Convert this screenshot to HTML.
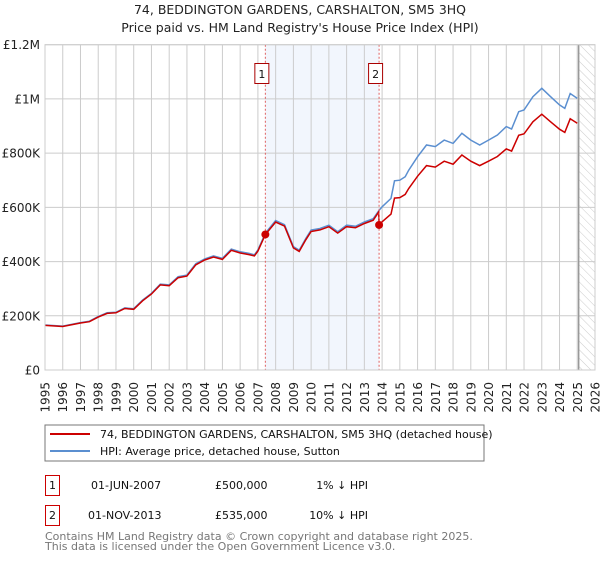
<!DOCTYPE html>
<html><head><meta charset="utf-8"><style>
body{margin:0;background:#fff;font-family:"DejaVu Sans","Liberation Sans",sans-serif;}
svg text{font-family:"DejaVu Sans","Liberation Sans",sans-serif;}
</style></head><body>
<svg id="c" width="600" height="560" viewBox="0 0 600 560" xmlns="http://www.w3.org/2000/svg">
<defs><pattern id="hatch" width="6" height="6" patternUnits="userSpaceOnUse" patternTransform="rotate(-45)"><line x1="0" y1="0" x2="0" y2="6" stroke="#ccc" stroke-width="1"/></pattern></defs>
<text x="300" y="14" text-anchor="middle" font-size="12.5" fill="#222">74, BEDDINGTON GARDENS, CARSHALTON, SM5 3HQ</text>
<text x="300" y="32" text-anchor="middle" font-size="12.5" fill="#222">Price paid vs. HM Land Registry's House Price Index (HPI)</text>
<g id="plot"></g>
<rect x="45" y="425" width="439" height="36" fill="#fff" stroke="#777"/>
<line x1="50" y1="434" x2="90" y2="434" stroke="#cc0000" stroke-width="2"/>
<text x="100" y="438" font-size="11" fill="#111">74, BEDDINGTON GARDENS, CARSHALTON, SM5 3HQ (detached house)</text>
<line x1="50" y1="451" x2="90" y2="451" stroke="#5b8fd0" stroke-width="2"/>
<text x="100" y="455" font-size="11" fill="#111">HPI: Average price, detached house, Sutton</text>
<g>
<rect x="45.5" y="475.5" width="14" height="20" fill="none" stroke="#cc0000"/>
<text x="52.5" y="489" text-anchor="middle" font-size="11" fill="#111">1</text>
<text x="91" y="489" font-size="11" fill="#111">01-JUN-2007</text>
<text x="215" y="489" font-size="11" fill="#111">£500,000</text>
<text x="368" y="489" text-anchor="end" font-size="11" fill="#111">1% ↓ HPI</text></g>
<g>
<rect x="45.5" y="505.5" width="14" height="20" fill="none" stroke="#cc0000"/>
<text x="52.5" y="519" text-anchor="middle" font-size="11" fill="#111">2</text>
<text x="88" y="519" font-size="11" fill="#111">01-NOV-2013</text>
<text x="215" y="519" font-size="11" fill="#111">£535,000</text>
<text x="368" y="519" text-anchor="end" font-size="11" fill="#111">10% ↓ HPI</text></g>
<text x="45" y="540" font-size="11" fill="#777">Contains HM Land Registry data © Crown copyright and database right 2025.</text>
<text x="45" y="550" font-size="11" fill="#777">This data is licensed under the Open Government Licence v3.0.</text>
</svg>
<script>
const hpiYears=[1995,1996,1997,1997.5,1998,1998.5,1999,1999.5,2000,2000.5,2001,2001.5,2002,2002.5,2003,2003.5,2004,2004.5,2005,2005.5,2006,2006.5,2006.8,2007,2007.42,2008,2008.5,2009,2009.33,2009.7,2010,2010.5,2011,2011.5,2012,2012.5,2013,2013.5,2013.83,2014,2014.5,2014.7,2015,2015.3,2015.5,2016,2016.5,2017,2017.5,2018,2018.5,2019,2019.5,2020,2020.5,2021,2021.3,2021.7,2022,2022.5,2023,2023.5,2024,2024.3,2024.6,2025];
const hpiValues=[166,162,175,180,197,211,213,229,226,258,283,317,314,344,350,392,410,421,412,446,436,430,425,443,505,551,536,455,442,485,516,522,534,510,534,530,546,558,589,602,633,698,700,713,737,787,830,824,848,836,873,848,830,848,867,898,889,953,959,1008,1039,1008,978,965,1020,1002];
const saleYears=[2007.42,2013.83];
const salePrices=[500,535];
const saleLabels=["1","2"];
const yTicks=[0,200,400,600,800,1000,1200];
const yTickLabels=["£0","£200K","£400K","£600K","£800K","£1M","£1.2M"];
const xTicks=[1995,1996,1997,1998,1999,2000,2001,2002,2003,2004,2005,2006,2007,2008,2009,2010,2011,2012,2013,2014,2015,2016,2017,2018,2019,2020,2021,2022,2023,2024,2025,2026];

const L=45,R=595,T=44.7,B=370,X0=1995,X1=2026,YM=1200;
const sx=y=>L+(y-X0)/(X1-X0)*(R-L);
const sy=v=>B-v/YM*(B-T);
const NS="http://www.w3.org/2000/svg";
const g=document.getElementById('plot');
function mk(t,a,p){const e=document.createElementNS(NS,t);for(const k in a)e.setAttribute(k,a[k]);(p||g).appendChild(e);return e;}

let e=mk('rect',{x:sx(saleYears[0]),y:T,width:sx(saleYears[1])-sx(saleYears[0]),height:B-T,fill:'#f0f4fd',opacity:0.85});


e=mk('rect',{x:sx(2025.08),y:T,width:R-sx(2025.08),height:B-T,fill:'url(#hatch)'});


xTicks.forEach(t=>{const l=mk('line',{x1:sx(t),x2:sx(t),y1:T,y2:B,stroke:'#ccc','stroke-width':1});


const tx=mk('text',{x:0,y:0,'font-size':12,fill:'#222','text-anchor':'end',transform:`translate(${sx(t)+4.5},382) rotate(-90)`});tx.textContent=t;

});
yTicks.forEach((t,i)=>{const l=mk('line',{x1:L,x2:R,y1:sy(t),y2:sy(t),stroke:'#ccc','stroke-width':1});


const tx=mk('text',{x:40,y:sy(t)+4.5,'font-size':12,fill:'#222','text-anchor':'end'});tx.textContent=yTickLabels[i];

});
e=mk('line',{x1:sx(2025.08),x2:sx(2025.08),y1:T,y2:B,stroke:'#999','stroke-width':1.5});



// HPI line
let d=hpiYears.map((y,i)=>(i?'L':'M')+sx(y).toFixed(1)+','+sy(hpiValues[i]).toFixed(1)).join('');
e=mk('path',{d:d,fill:'none',stroke:'#5b8fd0','stroke-width':1.5});


// price-paid line: indexed to HPI from each sale
function hpiAt(y){for(let i=1;i<hpiYears.length;i++){if(y<=hpiYears[i]){const f=(y-hpiYears[i-1])/(hpiYears[i]-hpiYears[i-1]);return hpiValues[i-1]+f*(hpiValues[i]-hpiValues[i-1]);}}return hpiValues[hpiValues.length-1];}
const r1=salePrices[0]/hpiAt(saleYears[0]),r2=salePrices[1]/hpiAt(saleYears[1]);
let pts=[];
hpiYears.forEach((y,i)=>{if(y<saleYears[1])pts.push([y,hpiValues[i]*r1]);});
pts.push([saleYears[1]-0.02,hpiAt(saleYears[1])*r1]);
pts.push([saleYears[1],salePrices[1]]);
hpiYears.forEach((y,i)=>{if(y>saleYears[1])pts.push([y,hpiValues[i]*r2]);});
d=pts.map((p,i)=>(i?'L':'M')+sx(p[0]).toFixed(1)+','+sy(p[1]).toFixed(1)).join('');
e=mk('path',{d:d,fill:'none',stroke:'#cc0000','stroke-width':1.5});


saleYears.forEach((y,i)=>{
const l=mk('line',{x1:sx(y),x2:sx(y),y1:T,y2:B,stroke:'#e06060','stroke-width':1,'stroke-dasharray':'2,2'});


const c=mk('circle',{cx:sx(y),cy:sy(salePrices[i]),r:4,fill:'#cc0000'});


const b=mk('rect',{x:sx(y)-10.5,y:63.5,width:14,height:20,fill:'#fff',stroke:'#aa0000'});


const t=mk('text',{x:sx(y)-3.5,y:78,'font-size':11,'text-anchor':'middle',fill:'#111'});t.textContent=saleLabels[i];

});
e=mk('rect',{x:L,y:T,width:R-L,height:B-T,fill:'none',stroke:'#ccc'});


</script>
</body></html>
